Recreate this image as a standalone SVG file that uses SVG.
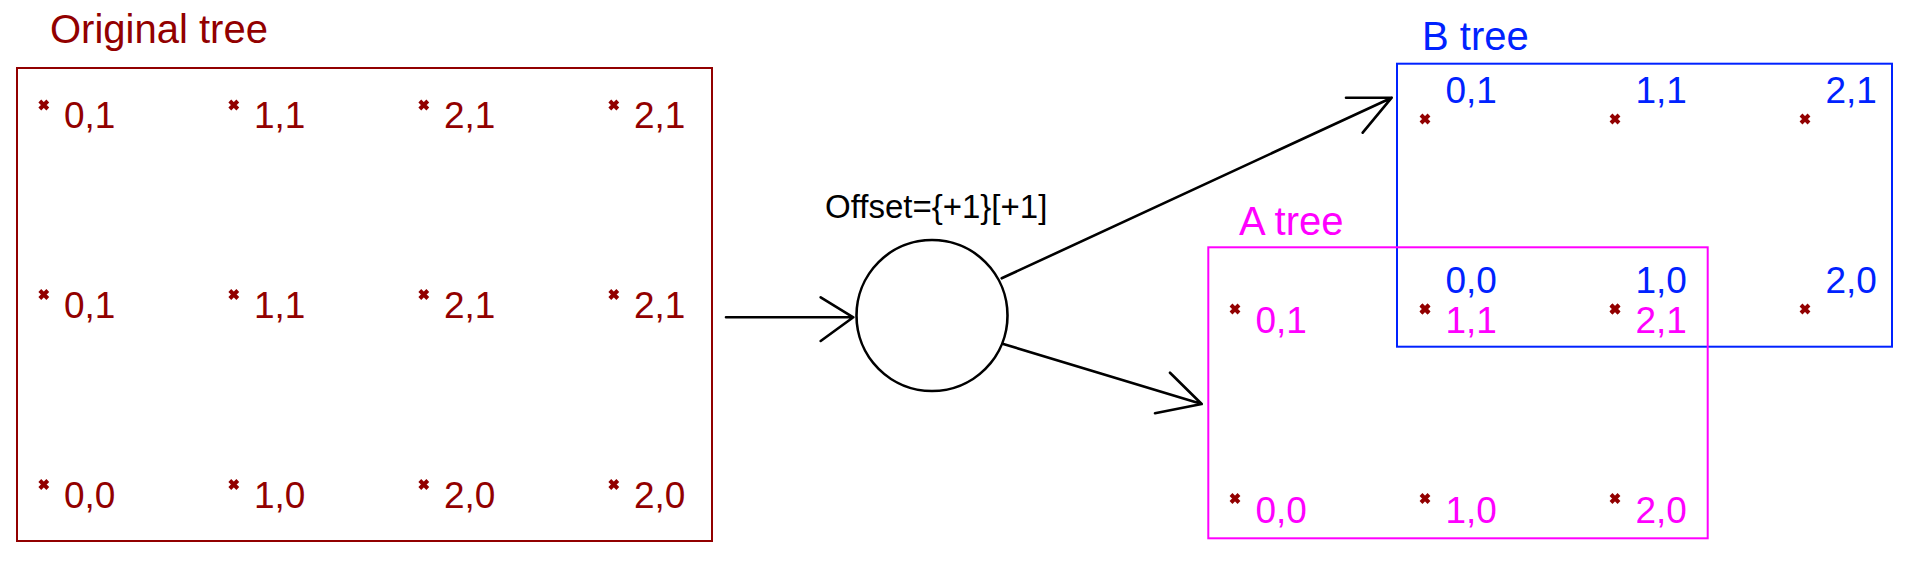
<svg xmlns="http://www.w3.org/2000/svg" xmlns:xlink="http://www.w3.org/1999/xlink" width="1914" height="568" viewBox="0 0 1914 568">
<style>
text{font-family:"Liberation Sans",Arial,sans-serif}
.title{font-size:40px}
.lbl{font-size:37px}
.red{fill:#920000}
.mag{fill:#FF00FF}
.blu{fill:#0022FF}
.box{fill:none;stroke-width:2}
.mk{stroke:#920000;stroke-width:4;fill:none}
.conn{stroke:#000;stroke-width:2.6;fill:none;stroke-linecap:round;stroke-linejoin:round}
</style>
<defs>
<path id="m" class="mk" d="M-4,-4L4,4M4,-4L-4,4"/>
</defs>
<rect width="1914" height="568" fill="#fff"/>

<g id="original-tree">
<text class="title red" x="50" y="43">Original tree</text>
<rect class="box" x="17" y="68" width="695" height="473" stroke="#920000"/>
<use xlink:href="#m" x="43.8" y="105"/><use xlink:href="#m" x="233.8" y="105"/><use xlink:href="#m" x="423.8" y="105"/><use xlink:href="#m" x="613.8" y="105"/>
<use xlink:href="#m" x="43.8" y="294.5"/><use xlink:href="#m" x="233.8" y="294.5"/><use xlink:href="#m" x="423.8" y="294.5"/><use xlink:href="#m" x="613.8" y="294.5"/>
<use xlink:href="#m" x="43.8" y="484.5"/><use xlink:href="#m" x="233.8" y="484.5"/><use xlink:href="#m" x="423.8" y="484.5"/><use xlink:href="#m" x="613.8" y="484.5"/>
<text class="lbl red" x="64" y="127.5">0,1</text><text class="lbl red" x="254" y="127.5">1,1</text><text class="lbl red" x="444" y="127.5">2,1</text><text class="lbl red" x="634" y="127.5">2,1</text>
<text class="lbl red" x="64" y="317.5">0,1</text><text class="lbl red" x="254" y="317.5">1,1</text><text class="lbl red" x="444" y="317.5">2,1</text><text class="lbl red" x="634" y="317.5">2,1</text>
<text class="lbl red" x="64" y="507.5">0,0</text><text class="lbl red" x="254" y="507.5">1,0</text><text class="lbl red" x="444" y="507.5">2,0</text><text class="lbl red" x="634" y="507.5">2,0</text>
</g>

<g id="offset-operator">
<text x="825" y="217.5" font-size="33" fill="#000">Offset={+1}[+1]</text>
<circle cx="932" cy="315.5" r="75.5" fill="none" stroke="#000" stroke-width="2.6"/>
</g>

<g id="b-tree">
<text class="title blu" x="1422" y="50">B tree</text>
<rect class="box" x="1397" y="63.7" width="495" height="283" stroke="#0022FF"/>
<use xlink:href="#m" x="1425" y="119"/><use xlink:href="#m" x="1615" y="119"/><use xlink:href="#m" x="1805" y="119"/>
<use xlink:href="#m" x="1425" y="309"/><use xlink:href="#m" x="1615" y="309"/><use xlink:href="#m" x="1805" y="309"/>
<text class="lbl blu" x="1445.5" y="102.5">0,1</text><text class="lbl blu" x="1635.5" y="102.5">1,1</text><text class="lbl blu" x="1825.5" y="102.5">2,1</text>
<text class="lbl blu" x="1445.5" y="292.5">0,0</text><text class="lbl blu" x="1635.5" y="292.5">1,0</text><text class="lbl blu" x="1825.5" y="292.5">2,0</text>
</g>

<g id="a-tree">
<text class="title mag" x="1239" y="235">A tree</text>
<rect class="box" x="1208.3" y="247.3" width="499.4" height="291" stroke="#FF00FF"/>
<use xlink:href="#m" x="1235" y="309"/><use xlink:href="#m" x="1425" y="309"/><use xlink:href="#m" x="1615" y="309"/>
<use xlink:href="#m" x="1235" y="498.5"/><use xlink:href="#m" x="1425" y="498.5"/><use xlink:href="#m" x="1615" y="498.5"/>
<text class="lbl mag" x="1255.5" y="332.7">0,1</text><text class="lbl mag" x="1445.5" y="332.7">1,1</text><text class="lbl mag" x="1635.5" y="332.7">2,1</text>
<text class="lbl mag" x="1255.5" y="522.5">0,0</text><text class="lbl mag" x="1445.5" y="522.5">1,0</text><text class="lbl mag" x="1635.5" y="522.5">2,0</text>
</g>

<g id="connectors">
<path class="conn" d="M726,317.3L853.3,317.3M820.7,297.3L853.3,317.3L820.7,341"/>
<path class="conn" d="M1001.7,278.3L1391.7,97.7M1346,97.7L1391.7,97.7L1362.7,132.7"/>
<path class="conn" d="M1003.3,344L1201.7,404M1170,372.7L1201.7,404L1155,413.3"/>
</g>
</svg>
